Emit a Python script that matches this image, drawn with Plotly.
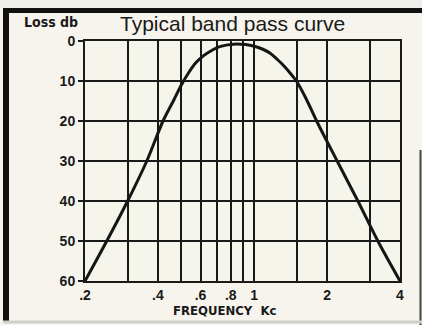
import plotly.graph_objects as go

# Band pass response: frequency (kc) vs loss (db)
freq_kc = [0.2, 0.246, 0.3, 0.36, 0.42, 0.465, 0.5, 0.535, 0.575, 0.62, 0.67,
           0.72, 0.82, 0.92, 1.0, 1.08, 1.16, 1.24, 1.33, 1.42, 1.5,
           1.64, 1.81, 2.2, 2.68, 3.24, 4.0]
loss_db = [60, 50, 40, 30, 20, 14.8, 11.0, 8.0, 5.4, 3.6, 2.3,
           1.4, 0.8, 0.9, 1.3, 2.0, 3.0, 4.5, 6.3, 8.3, 10.2,
           14.5, 20, 30, 40, 50, 60]

x_tick_vals = [0.2, 0.4, 0.6, 0.8, 1, 2, 4]
x_tick_text = [".2", ".4", ".6", ".8", "1", "2", "4"]
x_minor_vals = [0.3, 0.5, 0.7, 0.9, 1.5, 3]
y_tick_vals = [0, 10, 20, 30, 40, 50, 60]

W, H = 422, 325
L, R, T, B = 85, 400, 41, 281  # plot area in pixels


def px(x):
    return (x - L) / (R - L)


def py(y):
    return (B - y) / (B - T)


fig = go.Figure()
fig.add_trace(go.Scatter(
    x=freq_kc, y=loss_db, mode="lines",
    line=dict(color="#161616", width=3, shape="spline", smoothing=0.9),
    hoverinfo="skip",
))

ink = "#1a1a1a"
tick_font = dict(size=14, family="Liberation Sans, Arial", color=ink, weight="bold")
fig.update_layout(
    width=W, height=H,
    margin=dict(l=L, r=W - R, t=T, b=H - B),
    paper_bgcolor="#f7f4ed",
    plot_bgcolor="#f5f5ec",
    showlegend=False,
    font=dict(family="Liberation Sans, Arial, sans-serif", color=ink),
    xaxis=dict(
        type="log", range=[-0.69897, 0.60206],
        tickvals=x_tick_vals, ticktext=x_tick_text,
        tickfont=tick_font,
        showgrid=True, gridcolor=ink, gridwidth=2,
        minor=dict(tickmode="array", tickvals=x_minor_vals,
                   showgrid=True, gridcolor=ink, gridwidth=2),
        showline=True, linecolor=ink, linewidth=2, mirror=True,
        ticks="", zeroline=False,
    ),
    yaxis=dict(
        range=[60, 0], tickvals=y_tick_vals,
        tickfont=tick_font,
        showgrid=True, gridcolor=ink, gridwidth=2,
        showline=True, linecolor=ink, linewidth=2, mirror=True,
        ticks="outside", ticklen=5, tickwidth=2, tickcolor=ink,
        zeroline=False,
    ),
)

# Titles and axis captions
fig.add_annotation(text="Typical band pass curve", xref="paper", yref="paper",
                   x=px(232), y=py(23), xanchor="center", yanchor="middle",
                   showarrow=False,
                   font=dict(size=21, family="Liberation Sans, Arial", color=ink))
fig.add_annotation(text="<b>Loss db</b>", xref="paper", yref="paper",
                   x=px(51), y=py(22), xanchor="center", yanchor="middle",
                   showarrow=False,
                   font=dict(size=14, family="DejaVu Sans Condensed, DejaVu Sans", color=ink))
fig.add_annotation(text="<b>FREQUENCY  Kc</b>", xref="paper", yref="paper",
                   x=px(224), y=py(310), xanchor="center", yanchor="middle",
                   showarrow=False,
                   font=dict(size=13, family="DejaVu Sans Condensed, DejaVu Sans", color=ink))

# Frame around the card
shapes = [
    dict(type="rect", xref="paper", yref="paper", x0=px(0), x1=px(W),
         y0=py(8), y1=py(0), fillcolor="#eeeeea", line=dict(width=0), layer="below"),
    dict(type="line", xref="paper", yref="paper", x0=px(3), x1=px(W),
         y0=py(10.5), y1=py(10.5), line=dict(color="#111", width=5)),
    dict(type="line", xref="paper", yref="paper", x0=px(6), x1=px(6),
         y0=py(8), y1=py(322), line=dict(color="#111", width=6)),
    dict(type="line", xref="paper", yref="paper", x0=px(420.5), x1=px(420.5),
         y0=py(150), y1=py(325), line=dict(color="#444", width=2)),
    dict(type="line", xref="paper", yref="paper", x0=px(3), x1=px(W),
         y0=py(322), y1=py(322), line=dict(color="#cfcfc8", width=3)),
]
fig.update_layout(shapes=shapes)

fig.write_html("out.html")
